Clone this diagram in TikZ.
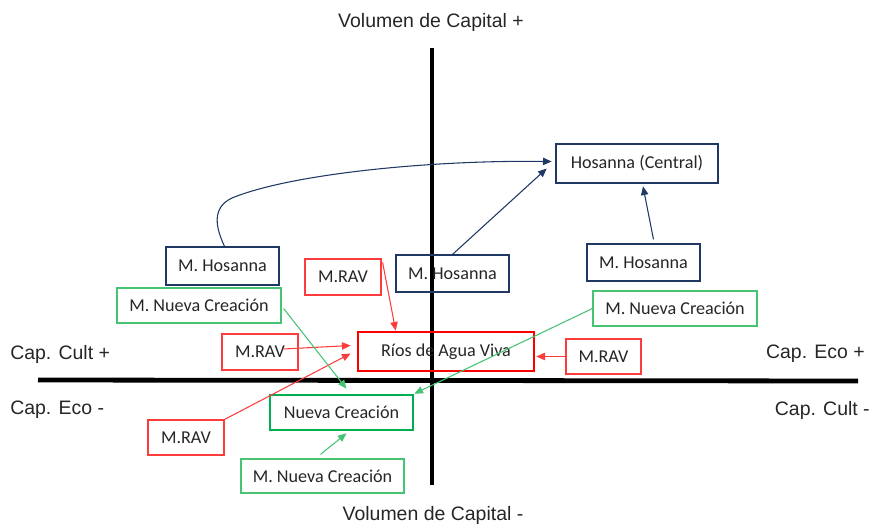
\documentclass[tikz,border=0pt]{standalone}
\usepackage{fontspec}
\setmainfont{Carlito}
\newfontfamily\axfont{Liberation Sans}
\usetikzlibrary{arrows.meta,calc}
\definecolor{navyc}{RGB}{32,56,100}
\definecolor{redc}{RGB}{255,0,0}
\definecolor{redt}{RGB}{255,60,60}
\definecolor{greenc}{RGB}{0,176,80}
\definecolor{greent}{RGB}{70,195,115}
\tikzset{
  box/.style={draw, inner sep=0pt, font=\fontsize{13.6}{16}\selectfont, text=black!85},
  thinb/.style={box, line width=0.9pt},
  thickb/.style={box, line width=2pt},
  axis/.style={line width=3.6pt, black},
  axlab/.style={font=\axfont\fontsize{14.6}{17}\selectfont, inner sep=0pt, text=black!85},
  con/.style={line width=0.8pt, -{Triangle[length=6.5pt,width=5.5pt]}},
}
\begin{document}
\begin{tikzpicture}[x=0.75pt,y=-0.75pt]
\useasboundingbox (0,0) rectangle (872,526);
% axes
\coordinate (vt) at (432,48);
\coordinate (vb) at (432,485);
\coordinate (hl) at (38,380);
\coordinate (hr) at (858,381);
\draw[axis] (vt) -- (vb);
\draw[axis] (hl) -- (hr);
% axis labels
\node[axlab] (vplus) at (431,22) {Volumen de Capital +};
\node[axlab] (vminus) at (433,515) {Volumen de Capital -};
\node[axlab, anchor=west] (cultp) at (10,354) {Cap. Cult +};
\node[axlab, anchor=west] (ecom) at (10,410) {Cap. Eco -};
\node[axlab, anchor=east] (ecop) at (865,354) {Cap. Eco +};
\node[axlab, anchor=east] (cultm) at (870,410) {Cap. Cult -};
% boxes
\node[thickb, draw=navyc, minimum width=121.5pt, minimum height=29.25pt] (hc) at (637,163.5) {Hosanna (Central)};
\node[thinb, draw=navyc, minimum width=84.75pt, minimum height=28.5pt] (mh1) at (222.5,266) {M. Hosanna};
\node[thinb, draw=navyc, minimum width=84.75pt, minimum height=27.75pt] (mh2) at (452.5,273.5) {M. Hosanna};
\node[thinb, draw=navyc, minimum width=84.75pt, minimum height=27.75pt] (mh3) at (643.5,262.5) {M. Hosanna};
\node[thinb, draw=redt, minimum width=57pt, minimum height=27pt] (mrav1) at (343,277) {M.RAV};
\node[thinb, draw=greent, minimum width=123pt, minimum height=26.25pt] (mnc1) at (199,305.5) {M. Nueva Creación};
\node[thinb, draw=greent, minimum width=123pt, minimum height=26.25pt] (mnc2) at (675,308.5) {M. Nueva Creación};
\node[thinb, draw=redt, minimum width=57pt, minimum height=27pt] (mrav2) at (260,352) {M.RAV};
\node[thickb, draw=redc, minimum width=132pt, minimum height=29.25pt] (rav) at (446,351.5) {Ríos de Agua Viva};
\node[thinb, draw=redt, minimum width=56.25pt, minimum height=26.25pt] (mrav3) at (603.5,356.5) {M.RAV};
\node[thickb, draw=greenc, minimum width=107.25pt, minimum height=26.25pt] (nc) at (341.5,412.5) {Nueva Creación};
\node[thinb, draw=redt, minimum width=57pt, minimum height=26.25pt] (mrav4) at (186,437.5) {M.RAV};
\node[thinb, draw=greent, minimum width=122.25pt, minimum height=25.5pt] (mnc3) at (322.5,476) {M. Nueva Creación};
% connectors - blue
\draw[con, navyc] ($(mh1.north)+(2,0)$) .. controls (216,228) and (211,208) .. (232,198) .. controls (290,174) and (430,160) .. ($(hc.west)+(-3,-2)$);
\draw[con, navyc] (mh2.north) -- ($(hc.west)+(-8,5)$);
\draw[con, navyc] ($(mh3.north)+(10,-4)$) -- ($(hc.south)+(6,2)$);
% connectors - red
\draw[con, redt] ($(mrav1.north east)+(1,4)$) -- ($(rav.north west)+(39,0)$);
\draw[con, redt] ($(mrav2.east)+(-15,-3)$) -- ($(rav.west)+(-6,-6)$);
\draw[con, redt] (mrav4.north east) -- ($(rav.west)+(-6,2)$);
\draw[con, redt] (mrav3.west) -- ($(rav.east)+(1,5)$);
% connectors - green
\draw[con, greent] ($(mnc1.east)+(2,3)$) -- ($(nc.north)+(5,-5)$);
\draw[con, greent] (mnc2.west) -- (nc.north east);
\draw[con, greent] ($(mnc3.north)+(-2,-4)$) -- ($(nc.south)+(5,2)$);
\end{tikzpicture}
\end{document}
